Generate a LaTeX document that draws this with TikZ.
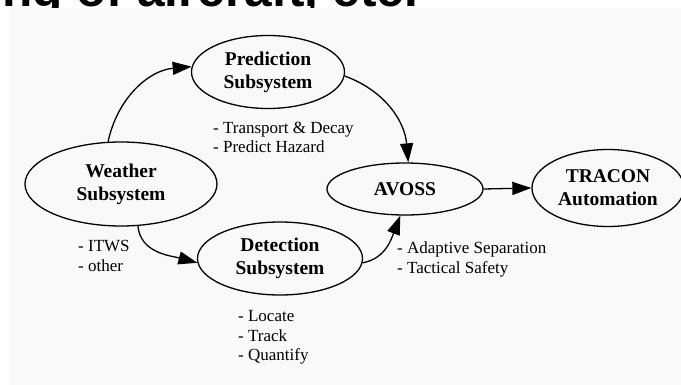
\documentclass[tikz,border=0pt]{standalone}
\usepackage{fontspec}
\setmainfont{Liberation Serif}
\newfontfamily\slidefont{Liberation Sans}
\usetikzlibrary{arrows.meta, shapes.geometric}

\definecolor{panelgray}{HTML}{F9F9F9}

\tikzset{
	subsys/.style={ellipse, draw, line width=1.3pt, inner sep=0pt, align=center, font=\fontsize{19.5}{23}\selectfont\bfseries},
	flow/.style={line width=1.3pt, -{Triangle[length=19pt, width=13pt]}},
	note/.style={anchor=west, inner sep=0pt, align=left, font=\fontsize{17}{19.5}\selectfont}
}

\begin{document}
\begin{tikzpicture}[x=1pt, y=1pt]
		\useasboundingbox (0,0) rectangle (681,-385);
		\clip (0,0) rectangle (681,-385);

		\node[anchor=base east, inner sep=0pt, font=\slidefont\bfseries\fontsize{49.5}{56}\selectfont] (title) at (418,-6.5) {ading of aircraft, etc.};
		\fill[panelgray] (10,-8) rectangle (681,-385);

		\node[subsys, minimum width=192pt, minimum height=84pt] (weather) at (121,-184) {Weather\\Subsystem};
		\node[subsys, minimum width=153pt, minimum height=73pt] (predict) at (268,-72) {Prediction\\Subsystem};
		\node[subsys, minimum width=165pt, minimum height=73pt] (detect) at (280,-258.5) {Detection\\Subsystem};
		\node[subsys, minimum width=156pt, minimum height=52pt] (avoss) at (405,-189) {AVOSS};
		\node[subsys, minimum width=152pt, minimum height=77pt] (tracon) at (608,-188) {TRACON\\Automation};

		\draw[flow] (weather.107) to[out=78, in=185] (predict.176);
		\draw[flow] (predict.-3) to[out=-20, in=95] (avoss.83);
		\draw[flow] (weather.-68) to[out=-85, in=165] (detect.183);
		\draw[flow] (detect.-3) to[out=10, in=-111] (avoss.-100);
		\draw[flow] (avoss.east) -- (tracon.west);

		\node[note] (predictnote) at (213,-137.5) {- Transport \& Decay\\- Predict Hazard};
		\node[note] (weathernote) at (78,-256) {- ITWS\\- other};
		\node[note] (detectnote) at (238,-337.5) {- Locate\\- Track\\- Quantify};
		\node[note] (avossnote) at (397,-259.5) {- Adaptive Separation\\- Tactical Safety};
	\end{tikzpicture}
\end{document}
